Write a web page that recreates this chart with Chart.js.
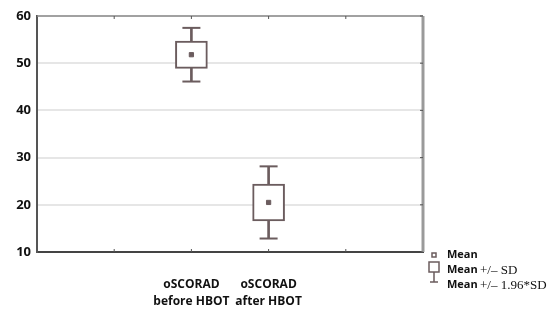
<!DOCTYPE html>
<html>
<head>
<meta charset="utf-8">
<script src="https://cdn.jsdelivr.net/npm/chart.js@4"></script>
<style>
  body { margin: 0; background: #fff; }
  .wrap { width: 550px; height: 319px; position: relative; }
</style>
</head>
<body>
<div class="wrap"><canvas id="boxChart"></canvas></div>
<script>
// slots on the x axis: empty, empty, before, after, empty, empty
const categories = ['', '', ['oSCORAD', 'before HBOT'], ['oSCORAD', 'after HBOT'], '', ''];
const means = [null, null, 51.8, 20.5, null, null];
const sds = [null, null, 2.9, 3.9, null, null];
const yTicks = [10, 20, 30, 40, 50, 60];
const legendItems = ['Mean', 'Mean +/\u2013 SD', 'Mean +/\u2013 1.96*SD'];

const boxColor = '#6b5c5e';

const sdBox = means.map((m, i) => m === null ? null : [m - sds[i], m + sds[i]]);
const whisker = means.map((m, i) => m === null ? null : [m - 1.96 * sds[i], m + 1.96 * sds[i]]);
const capHigh = means.map((m, i) => m === null ? null : m + 1.96 * sds[i]);
const capLow = means.map((m, i) => m === null ? null : m - 1.96 * sds[i]);

// frame, small inward ticks and legend
const framePlugin = {
  id: 'frame',
  afterDraw(chart) {
    const { ctx, chartArea: a, scales } = chart;
    ctx.save();
    ctx.strokeStyle = '#8a8a8a';
    ctx.lineWidth = 1.5;
    ctx.beginPath();
    ctx.moveTo(a.left, a.top);
    ctx.lineTo(a.right, a.top);
    ctx.stroke();
    ctx.strokeStyle = '#9a9a9a';
    ctx.lineWidth = 3;
    ctx.beginPath();
    ctx.moveTo(a.right, a.top);
    ctx.lineTo(a.right, a.bottom);
    ctx.stroke();

    ctx.strokeStyle = '#555';
    ctx.lineWidth = 1;
    for (let i = 1; i < categories.length - 1; i++) {
      const px = scales.x.getPixelForValue(i);
      ctx.beginPath();
      ctx.moveTo(px, a.top); ctx.lineTo(px, a.top + 3);
      ctx.moveTo(px, a.bottom); ctx.lineTo(px, a.bottom - 3);
      ctx.stroke();
    }
    yTicks.forEach(v => {
      const py = scales.y.getPixelForValue(v);
      ctx.beginPath();
      ctx.moveTo(a.right, py); ctx.lineTo(a.right - 3, py);
      ctx.stroke();
    });

    // legend
    const lx = 434, ly = [255, 270, 285];
    ctx.fillStyle = boxColor;
    ctx.strokeStyle = boxColor;
    ctx.lineWidth = 1.5;
    ctx.strokeRect(lx - 2, ly[0] - 2, 4, 4);
    ctx.strokeRect(lx - 5, 262, 10, 10);
    ctx.beginPath();
    ctx.moveTo(lx, 272); ctx.lineTo(lx, 282);
    ctx.moveTo(lx - 4, 282); ctx.lineTo(lx + 4, 282);
    ctx.stroke();
    ctx.fillStyle = '#111';
    ctx.textBaseline = 'middle';
    legendItems.forEach((t, i) => {
      ctx.font = 'bold 11px "Open Sans"';
      ctx.fillText('Mean', 447, ly[i]);
      if (i > 0) {
        ctx.font = '13px "Liberation Serif"';
        ctx.fillText(t.slice(5), 480, ly[i] + 1);
      }
    });
    ctx.restore();
  }
};

new Chart(document.getElementById('boxChart'), {
  data: {
    labels: categories,
    datasets: [
      {
        type: 'bar',
        data: whisker,
        backgroundColor: boxColor,
        barThickness: 2,
        grouped: false,
        order: 4
      },
      {
        type: 'bar',
        data: sdBox,
        backgroundColor: '#fff',
        borderColor: boxColor,
        borderWidth: 2,
        borderSkipped: false,
        barThickness: 32,
        grouped: false,
        order: 3
      },
      {
        type: 'line',
        data: capHigh,
        showLine: false,
        pointStyle: 'line',
        pointRadius: 9,
        pointBorderWidth: 2,
        borderColor: boxColor,
        order: 2
      },
      {
        type: 'line',
        data: capLow,
        showLine: false,
        pointStyle: 'line',
        pointRadius: 9,
        pointBorderWidth: 2,
        borderColor: boxColor,
        order: 2
      },
      {
        type: 'line',
        data: means,
        showLine: false,
        pointStyle: 'rect',
        pointRadius: 3,
        pointBorderWidth: 1,
        pointBackgroundColor: boxColor,
        borderColor: boxColor,
        order: 1
      }
    ]
  },
  options: {
    responsive: true,
    maintainAspectRatio: false,
    animation: false,
    layout: { padding: { top: 16, right: 127 } },
    plugins: { legend: { display: false }, tooltip: { enabled: false } },
    scales: {
      x: {
        type: 'category',
        offset: false,
        grid: { display: false },
        border: { color: '#444', width: 2 },
        ticks: {
          autoSkip: false,
          maxRotation: 0,
          padding: 16,
          color: '#111',
          font: { family: '"Open Sans"', size: 12, weight: 'bold', lineHeight: 1.4 }
        },
        afterFit(scale) { scale.height = 67; }
      },
      y: {
        min: 10,
        max: 60,
        grid: { color: '#e6e6e6', lineWidth: 2, drawTicks: false },
        border: { color: '#555', width: 2 },
        ticks: {
          stepSize: 10,
          padding: 6,
          color: '#111',
          font: { family: '"Open Sans"', size: 13, weight: 'bold' }
        },
        afterFit(scale) { scale.width = 37; }
      }
    }
  },
  plugins: [framePlugin]
});
</script>
</body>
</html>
